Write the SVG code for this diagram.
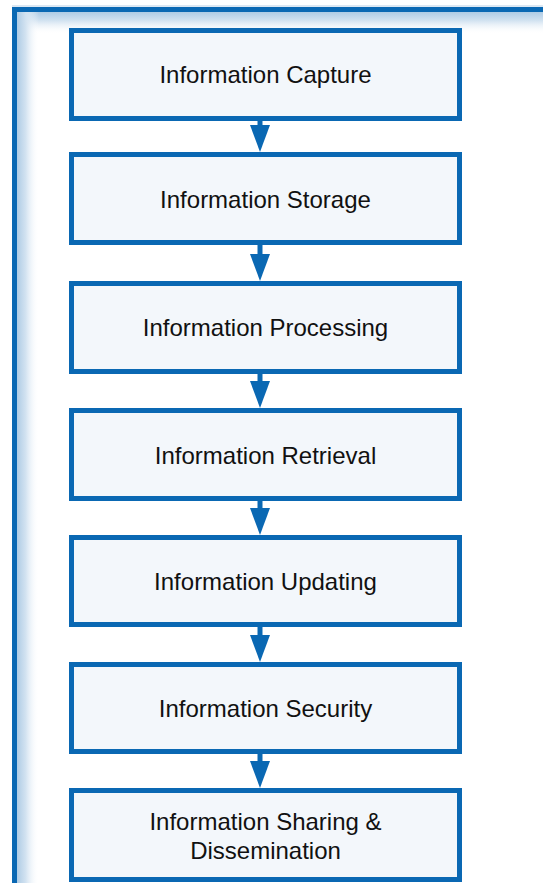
<svg xmlns="http://www.w3.org/2000/svg" width="543" height="883" viewBox="0 0 543 883">
  <defs>
    <linearGradient id="gTop" x1="0" y1="0" x2="0" y2="1">
      <stop offset="0" stop-color="#AFCCE5"/>
      <stop offset="0.4" stop-color="#D3E3F1"/>
      <stop offset="1" stop-color="#FFFFFF" stop-opacity="0"/>
    </linearGradient>
    <linearGradient id="gLeft" x1="0" y1="0" x2="1" y2="0">
      <stop offset="0" stop-color="#AFCCE5"/>
      <stop offset="0.4" stop-color="#D3E3F1"/>
      <stop offset="1" stop-color="#FFFFFF" stop-opacity="0"/>
    </linearGradient>
    <style>
      .box { fill: #F3F7FB; stroke: #0A68B3; stroke-width: 5; }
      .lbl { font-family: "Liberation Sans", Arial, sans-serif; font-size: 24px; fill: #111111; text-anchor: middle; dominant-baseline: central; }
      .shaft { stroke: #0A68B3; stroke-width: 5; }
      .head { fill: #0A68B3; }
      .frame { fill: #0A68B3; }
    </style>
  </defs>
  <rect x="0" y="0" width="543" height="883" fill="#FFFFFF"/>
  <g id="frame">
    <rect x="17" y="12" width="526" height="22" fill="url(#gTop)"/>
    <rect x="17" y="12" width="22" height="871" fill="url(#gLeft)"/>
    <rect x="12" y="5" width="531" height="2" fill="#DCE8F3"/>
    <rect class="frame" x="12" y="7" width="531" height="5"/>
    <rect class="frame" x="12" y="7" width="5" height="876"/>
  </g>
  <g id="connectors">
    <line class="shaft" x1="260" y1="119" x2="260" y2="127"/>
    <polygon class="head" points="250,125 270,125 260,152"/>
    <line class="shaft" x1="260" y1="243" x2="260" y2="256"/>
    <polygon class="head" points="250,254 270,254 260,281"/>
    <line class="shaft" x1="260" y1="372" x2="260" y2="383"/>
    <polygon class="head" points="250,381 270,381 260,408"/>
    <line class="shaft" x1="260" y1="499" x2="260" y2="510"/>
    <polygon class="head" points="250,508 270,508 260,535"/>
    <line class="shaft" x1="260" y1="625" x2="260" y2="637"/>
    <polygon class="head" points="250,635 270,635 260,662"/>
    <line class="shaft" x1="260" y1="752" x2="260" y2="763"/>
    <polygon class="head" points="250,761 270,761 260,788"/>
  </g>
  <g id="n1">
    <rect class="box" x="71.5" y="30.5" width="388" height="88"/>
    <text class="lbl" x="265.5" y="74">Information Capture</text>
  </g>
  <g id="n2">
    <rect class="box" x="71.5" y="154.5" width="388" height="88"/>
    <text class="lbl" x="265.5" y="199">Information Storage</text>
  </g>
  <g id="n3">
    <rect class="box" x="71.5" y="283.5" width="388" height="88"/>
    <text class="lbl" x="265.5" y="327">Information Processing</text>
  </g>
  <g id="n4">
    <rect class="box" x="71.5" y="410.5" width="388" height="88"/>
    <text class="lbl" x="265.5" y="455">Information Retrieval</text>
  </g>
  <g id="n5">
    <rect class="box" x="71.5" y="537.5" width="388" height="87"/>
    <text class="lbl" x="265.5" y="581">Information Updating</text>
  </g>
  <g id="n6">
    <rect class="box" x="71.5" y="664.5" width="388" height="87"/>
    <text class="lbl" x="265.5" y="708">Information Security</text>
  </g>
  <g id="n7">
    <rect class="box" x="71.5" y="790.5" width="388" height="89"/>
    <text class="lbl" x="265.5" y="821">Information Sharing &amp;</text>
    <text class="lbl" x="265.5" y="850">Dissemination</text>
  </g>
</svg>
